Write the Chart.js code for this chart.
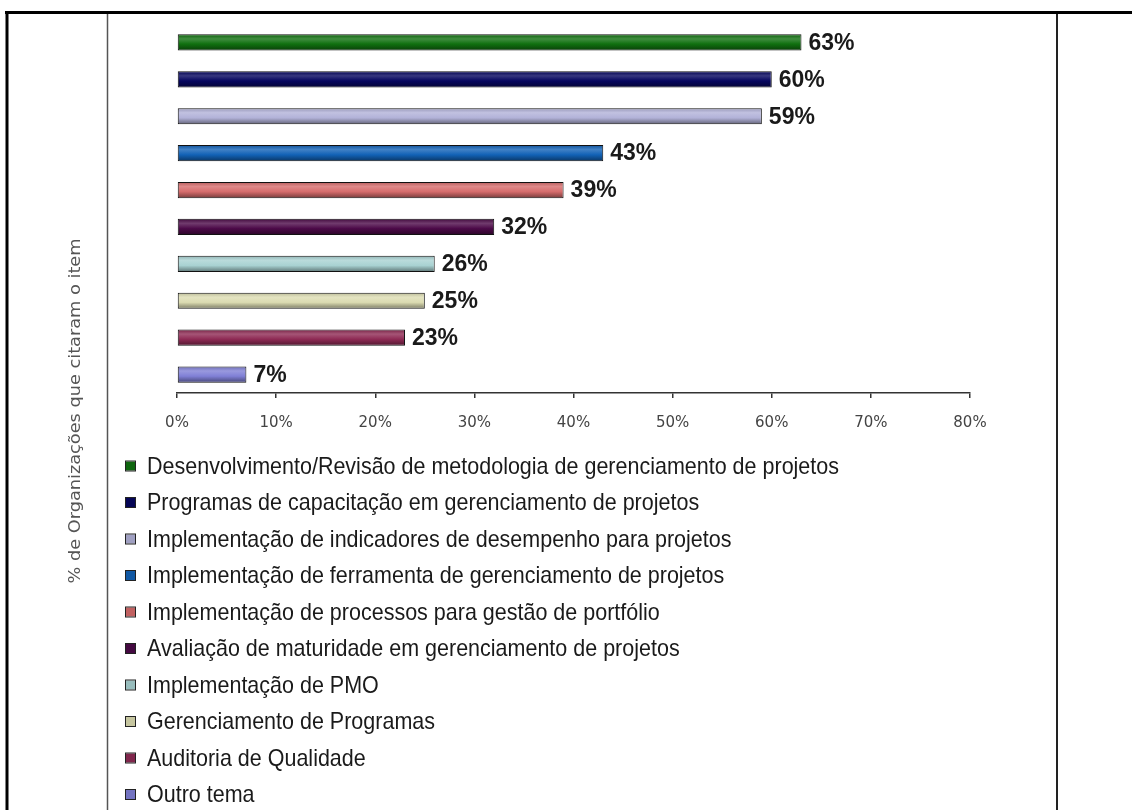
<!DOCTYPE html>
<html>
<head>
<meta charset="utf-8">
<script src="https://cdn.jsdelivr.net/npm/chart.js@4/dist/chart.umd.min.js"></script>
<style>
  html, body { margin: 0; padding: 0; background: #fff; }
  #wrap { width: 1132px; height: 810px; }
</style>
</head>
<body>
<div id="wrap"><canvas id="grafico" width="1132" height="810"></canvas></div>
<script>
// Temas citados pelas organizações (ordem do maior para o menor)
const categorias = [
  'Desenvolvimento/Revisão de metodologia de gerenciamento de projetos',
  'Programas de capacitação em gerenciamento de projetos',
  'Implementação de indicadores de desempenho para projetos',
  'Implementação de ferramenta de gerenciamento de projetos',
  'Implementação de processos para gestão de portfólio',
  'Avaliação de maturidade em gerenciamento de projetos',
  'Implementação de PMO',
  'Gerenciamento de Programas',
  'Auditoria de Qualidade',
  'Outro tema'
];
const percentuais = [63, 60, 59, 43, 39, 32, 26, 25, 23, 7];
const cores = [
  '#10700f', '#05055e', '#b2b2d8', '#1262b6', '#d66c6c',
  '#4c0a48', '#a9d2d2', '#dcdcb2', '#8e2a54', '#8080d6'
];
const ticksX = [0, 10, 20, 30, 40, 50, 60, 70, 80];
const tituloY = '% de Organizações que citaram o item';

// mistura uma cor hex com outra (t = 0..1)
function mistura(hex, alvo, t) {
  const a = parseInt(hex.slice(1), 16), b = parseInt(alvo.slice(1), 16);
  const ch = (v, s) => (v >> s) & 255;
  const m = (s) => Math.round(ch(a, s) + (ch(b, s) - ch(a, s)) * t);
  return 'rgb(' + m(16) + ',' + m(8) + ',' + m(0) + ')';
}

// moldura da página e linhas verticais
const moldura = {
  id: 'moldura',
  beforeDraw(chart) {
    const c = chart.ctx;
    c.save();
    c.fillStyle = '#fff';
    c.fillRect(0, 0, chart.width, chart.height);
    c.strokeStyle = '#000';
    c.lineWidth = 3;
    c.beginPath();
    c.moveTo(5, 12.5); c.lineTo(chart.width, 12.5);
    c.moveTo(7, 11); c.lineTo(7, chart.height);
    c.stroke();
    c.lineWidth = 1.5;
    c.strokeStyle = '#555';
    c.beginPath();
    c.moveTo(107.5, 14); c.lineTo(107.5, chart.height);
    c.stroke();
    c.strokeStyle = '#222';
    c.lineWidth = 2;
    c.beginPath();
    c.moveTo(1057, 14); c.lineTo(1057, chart.height);
    c.stroke();
    c.restore();
  }
};

// sombreado das barras
const gradiente = {
  id: 'gradiente',
  beforeDatasetsDraw(chart) {
    const c = chart.ctx;
    chart.getDatasetMeta(0).data.forEach((bar, i) => {
      const topo = bar.y - bar.height / 2;
      const g = c.createLinearGradient(0, topo, 0, topo + bar.height);
      g.addColorStop(0, mistura(cores[i], '#000000', 0.15));
      g.addColorStop(0.28, mistura(cores[i], '#ffffff', 0.2));
      g.addColorStop(0.6, cores[i]);
      g.addColorStop(1, mistura(cores[i], '#000000', 0.45));
      bar.options.backgroundColor = g;
    });
  }
};

// valores ao lado das barras
const rotulos = {
  id: 'rotulos',
  afterDatasetsDraw(chart) {
    const c = chart.ctx;
    c.save();
    c.font = 'bold 23px "Liberation Sans", Arial, sans-serif';
    c.fillStyle = '#1a1a1a';
    c.textBaseline = 'middle';
    chart.getDatasetMeta(0).data.forEach((bar, i) => {
      c.fillText(percentuais[i] + '%', bar.x + 7, bar.y + 1);
    });
    c.restore();
  }
};

// título do eixo vertical e legenda em coluna
const textos = {
  id: 'textos',
  afterDraw(chart) {
    const c = chart.ctx;
    c.save();
    c.font = '16px "DejaVu Sans", sans-serif';
    c.fillStyle = '#555';
    c.textAlign = 'center';
    c.textBaseline = 'middle';
    const escT = 345 / c.measureText(tituloY).width;
    c.translate(76, 411);
    c.rotate(-Math.PI / 2);
    c.scale(escT, 1);
    c.fillText(tituloY, 0, 0);
    c.restore();

    c.save();
    c.font = '24px "Liberation Sans Narrow", "Liberation Sans", Arial, sans-serif';
    c.textBaseline = 'middle';
    const esc = 692 / c.measureText(categorias[0]).width;
    categorias.forEach((nome, i) => {
      const y = 466 + i * 36.5;
      c.fillStyle = mistura(cores[i], '#000000', 0.1);
      c.fillRect(126, y - 4.5, 9, 9);
      c.strokeStyle = '#222';
      c.lineWidth = 1;
      c.strokeRect(125.5, y - 5, 10, 10);
      c.save();
      c.translate(147, y + 1);
      c.scale(esc, 1);
      c.fillStyle = '#1a1a1a';
      c.fillText(nome, 0, 0);
      c.restore();
    });
    c.restore();
  }
};

new Chart(document.getElementById('grafico'), {
  type: 'bar',
  data: {
    labels: categorias,
    datasets: [{
      data: percentuais,
      backgroundColor: cores,
      borderColor: '#111',
      borderWidth: 1,
      borderSkipped: false,
      categoryPercentage: 1,
      barPercentage: 0.44
    }]
  },
  options: {
    indexAxis: 'y',
    responsive: false,
    animation: false,
    layout: { padding: { left: 177, right: 162, top: 24, bottom: 362 } },
    plugins: {
      legend: { display: false },
      tooltip: { enabled: false }
    },
    scales: {
      x: {
        min: 0,
        max: 80,
        afterBuildTicks: (s) => { s.ticks = ticksX.map(v => ({ value: v })); },
        ticks: {
          callback: (v) => v + '%',
          font: { family: 'DejaVu Sans', size: 15 },
          color: '#444',
          padding: 16,
          maxRotation: 0
        },
        grid: { display: true, drawOnChartArea: false, drawTicks: true, tickLength: 5, color: '#333', lineWidth: 1.5 },
        border: { display: true, color: '#333', width: 1.5 }
      },
      y: { display: false }
    }
  },
  plugins: [moldura, gradiente, rotulos, textos]
});
</script>
</body>
</html>
